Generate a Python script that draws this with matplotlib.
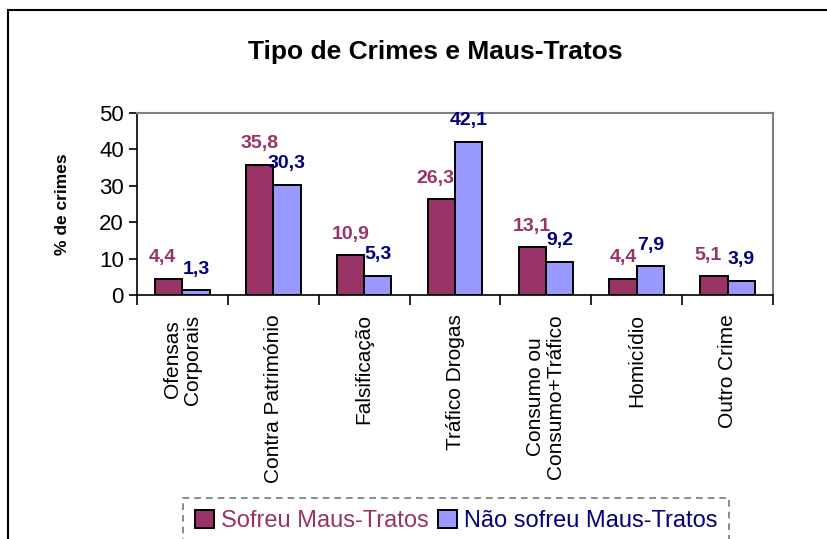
import numpy as np
import matplotlib
matplotlib.use("Agg")
from matplotlib import pyplot as plt
from matplotlib.patches import Rectangle

plt.rcParams["font.family"] = ["Liberation Sans", "DejaVu Sans"]

categories = ["Ofensas\nCorporais", "Contra Património", "Falsificação",
              "Tráfico Drogas", "Consumo ou\nConsumo+Tráfico", "Homicídio",
              "Outro Crime"]
sofreu = [4.4, 35.8, 10.9, 26.3, 13.1, 4.4, 5.1]
nao_sofreu = [1.3, 30.3, 5.3, 42.1, 9.2, 7.9, 3.9]
series_names = ["Sofreu Maus-Tratos", "Não sofreu Maus-Tratos"]

maroon = "#993366"
lilac = "#9999ff"
navy = "#000080"

fig = plt.figure(figsize=(8.27, 5.39), dpi=100)
ax = fig.add_axes([0.1657, 0.4527, 0.769, 0.3377])

x = np.arange(len(categories))
w = 0.3
ax.bar(x - w / 2, sofreu, w, color=maroon, edgecolor="black", linewidth=1.4,
       label=series_names[0])
ax.bar(x + w / 2, nao_sofreu, w, color=lilac, edgecolor="black", linewidth=1.4,
       label=series_names[1])


def fmt(v):
    return f"{v:.1f}".replace(".", ",")


for i in range(len(categories)):
    # nudge the maroon label left when it would crowd the blue one
    crowded = max(sofreu[i], nao_sofreu[i]) < 6 or nao_sofreu[i] > sofreu[i] + 5
    dx = -4.5 if crowded else 0
    ax.annotate(fmt(sofreu[i]), (x[i] - w / 2, sofreu[i]), xytext=(dx, 9),
                textcoords="offset points", ha="center", va="bottom",
                color=maroon, fontsize=14, fontweight="bold")
    ax.annotate(fmt(nao_sofreu[i]), (x[i] + w / 2, nao_sofreu[i]), xytext=(0, 9),
                textcoords="offset points", ha="center", va="bottom",
                color=navy, fontsize=14, fontweight="bold")

ax.set_xlim(-0.5, len(categories) - 0.5)
ax.set_ylim(0, 50)
ax.set_yticks(range(0, 51, 10))
ax.tick_params(axis="y", labelsize=16, length=6, width=1.2, direction="out")

ax.set_xticks(x)
ax.set_xticklabels(categories, rotation=90, fontsize=15, ha="center", va="top",
                   multialignment="center", linespacing=1.05)
ax.tick_params(axis="x", length=0, pad=14)
ax.set_xticks(np.arange(len(categories) + 1) - 0.5, minor=True)
ax.tick_params(axis="x", which="minor", length=7, width=1.2)

for s in ("top", "right"):
    ax.spines[s].set_color("#808080")
    ax.spines[s].set_linewidth(1.5)
for s in ("left", "bottom"):
    ax.spines[s].set_linewidth(1.2)

ax.set_ylabel("% de crimes", fontsize=12.5, fontweight="bold", labelpad=21)
fig.text(0.526, 0.903, "Tipo de Crimes e Maus-Tratos", ha="center", va="center",
         fontsize=19, fontweight="bold")

leg = fig.legend(loc="upper left", bbox_to_anchor=(183 / 827, 1 - 498 / 539),
                 ncol=2, handlelength=0.8, handleheight=0.8,
                 handletextpad=0.3, columnspacing=0.4, borderpad=0.5,
                 borderaxespad=0, fancybox=False, frameon=True, fontsize=17)
leg.get_frame().set_edgecolor("#555555")
leg.get_frame().set_linestyle((0, (4, 3)))
leg.get_frame().set_linewidth(1.2)
for t, c in zip(leg.get_texts(), [maroon, navy]):
    t.set_color(c)

fig.add_artist(Rectangle((8 / 827, -0.2), 1.2, 1.2 - 10 / 539, transform=fig.transFigure,
                         fill=False, edgecolor="black", linewidth=1.5))

fig.savefig("out.png", dpi=100)
